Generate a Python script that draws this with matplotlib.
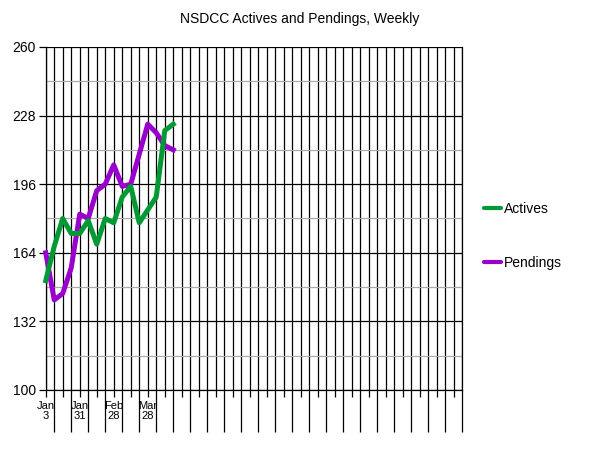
import numpy as np
import matplotlib.pyplot as plt
from matplotlib.ticker import FixedLocator

plt.rcParams['font.family'] = ['Liberation Sans', 'DejaVu Sans']

# weekly values, starting Jan 3
actives = [151, 167, 180, 173, 173, 179, 168, 180, 178, 190, 195, 178, 184, 190, 221, 224]
pendings = [164, 142, 145, 157, 182, 180, 193, 196, 205, 195, 196, 210, 224, 220, 214, 212]
n_weeks = 50
date_labels = {0: 'Jan\n3', 4: 'Jan\n31', 8: 'Feb\n28', 12: 'Mar\n28'}
y_major = [100, 132, 164, 196, 228, 260]
y_minor = [116, 148, 180, 212, 244]

green = '#009933'
purple = '#9900CC'

fig = plt.figure(figsize=(6, 4.63), dpi=100)
ax = fig.add_axes([0.0762, 0.1577, 0.6943, 0.7408])

x = np.arange(len(actives))
ax.plot(x, pendings, color=purple, lw=3.6, solid_joinstyle='round', clip_on=False, zorder=3, label='Pendings')
ax.plot(x, actives, color=green, lw=3.6, solid_joinstyle='round', clip_on=False, zorder=4, label='Actives')

ax.set_xlim(0, n_weeks - 1)
ax.set_ylim(100, 260)

# y axis: black major grid, grey minor grid
ax.yaxis.set_major_locator(FixedLocator(y_major))
ax.yaxis.set_minor_locator(FixedLocator(y_minor))
ax.grid(which='major', axis='y', color='black', lw=0.9)
ax.grid(which='minor', axis='y', color='#aaaaaa', lw=0.9)
ax.tick_params(axis='y', which='major', length=5, width=0.9, labelsize=10, pad=2)
ax.tick_params(axis='y', which='minor', length=0)

# x axis: line every week, short ticks on even weeks (labelled), long on odd
even = list(range(0, n_weeks, 2))
odd = list(range(1, n_weeks, 2))
ax.xaxis.set_minor_locator(FixedLocator(even))
ax.xaxis.set_major_locator(FixedLocator(odd))
ax.set_xticklabels([''] * len(odd))
ax.set_xticklabels([date_labels.get(i, '') for i in even], minor=True)
ax.tick_params(axis='x', which='major', length=30, width=0.9)
ax.tick_params(axis='x', which='minor', length=5, width=0.9, labelsize=8, pad=3)
for t in ax.get_xticklabels(minor=True):
    t.set_linespacing(0.95)
ax.grid(which='both', axis='x', color='black', lw=0.9)
ax.set_axisbelow(True)

for s in ['left', 'bottom', 'right']:
    ax.spines[s].set_linewidth(0.9)
ax.spines['top'].set_visible(False)

fig.text(0.5, 1 - 18.5 / 463, 'NSDCC Actives and Pendings, Weekly', ha='center', va='center', fontsize=10)

h, l = ax.get_legend_handles_labels()
leg = fig.legend(h[::-1], l[::-1], loc='center left', bbox_to_anchor=(484 / 600, 0.491),
                 frameon=False, fontsize=10, handlelength=1.2, handletextpad=0.25,
                 labelspacing=2.9, borderpad=0, borderaxespad=0)
for ln in leg.get_lines():
    ln.set_linewidth(3)
    ln.set_solid_capstyle('round')

plt.savefig('out.png', dpi=100)
